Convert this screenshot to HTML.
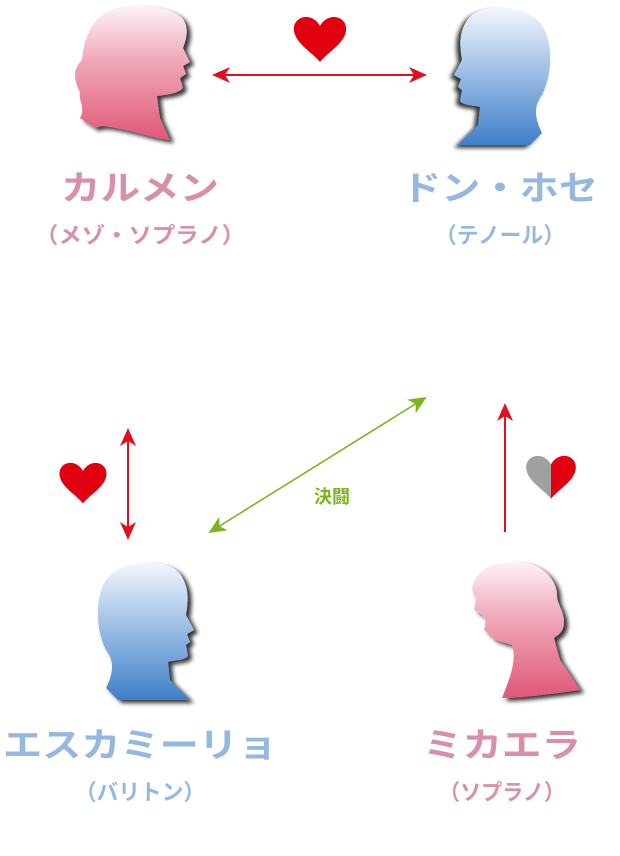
<!DOCTYPE html>
<html><head><meta charset="utf-8"><style>
html,body{margin:0;padding:0;background:#fff;width:620px;height:856px;overflow:hidden}
text{font-family:"Liberation Sans","Noto Sans CJK JP",sans-serif;font-weight:bold}
</style></head><body>
<svg width="620" height="856" viewBox="0 0 620 856" xmlns="http://www.w3.org/2000/svg">
<defs>
<linearGradient id="pk" x1="0" y1="0" x2="0" y2="1"><stop offset="0" stop-color="#fdf3f6"/><stop offset="0.4" stop-color="#f0a9bb"/><stop offset="1" stop-color="#df5778"/></linearGradient>
<linearGradient id="bl" x1="0" y1="0" x2="0" y2="1"><stop offset="0" stop-color="#f3f7fc"/><stop offset="0.4" stop-color="#a9c6e8"/><stop offset="1" stop-color="#3f7fc8"/></linearGradient>
<filter id="sh" x="-20%" y="-20%" width="150%" height="150%"><feGaussianBlur in="SourceAlpha" stdDeviation="2"/><feOffset dx="4" dy="3"/><feComponentTransfer><feFuncA type="linear" slope="0.8"/></feComponentTransfer><feMerge><feMergeNode/><feMergeNode in="SourceGraphic"/></feMerge></filter>
<path id="male" d="M30,140 L18,128 C26,112 26,100 18,90 C8,70 6,40 18,20 C32,0 78,-4 92,14 C102,28 100,42 98,55 L106,70 L99,74 L102,82 L98,85 L100,96 C96,101 86,100 80,102 L82,120 L102,140 Z"/>
<path id="red" d="M0,-10 C-8,-25 -28,-20 -26,-5 C-24,8 -8,16 0,26 C8,16 24,8 26,-5 C28,-20 8,-25 0,-10 Z"/>
<marker id="ar" markerWidth="18" markerHeight="16" refX="16" refY="8" orient="auto-start-reverse" markerUnits="userSpaceOnUse"><path d="M0,0 L18,8 L0,16 L5,8 Z" fill="#e0101e"/></marker>
<marker id="ag" markerWidth="18" markerHeight="16" refX="16" refY="8" orient="auto-start-reverse" markerUnits="userSpaceOnUse"><path d="M0,0 L18,8 L0,16 L5,8 Z" fill="#7ab51e"/></marker>
</defs>

<path filter="url(#sh)" fill="url(#pk)" d="M95,128 L80,118 C86,108 78,100 80,92 C74,80 72,70 82,60 C84,40 90,20 110,10 C135,2 170,6 182,18 C190,28 186,40 183,48 L190,62 L183,66 L186,74 L180,78 L183,88 C178,94 165,95 157,96 L160,118 L170,140 C150,138 125,128 102,126 Z"/>
<g transform="translate(560,5) scale(-1,1)"><use href="#male" fill="url(#bl)" filter="url(#sh)"/></g>
<g transform="translate(88,560)"><use href="#male" fill="url(#bl)" filter="url(#sh)"/></g>
<path filter="url(#sh)" fill="url(#pk)" transform="translate(462,560)" d="M10,30 C12,10 30,2 55,2 C80,2 95,20 95,35 C95,45 102,50 102,62 C102,72 96,75 92,78 L98,100 C105,110 115,125 118,130 C90,134 60,138 40,138 C48,118 55,100 50,85 C40,82 30,80 28,75 L22,70 L24,60 L20,55 L12,50 L14,40 Z"/>

<line x1="214" y1="75" x2="425" y2="75" stroke="#e0101e" stroke-width="2" marker-start="url(#ar)" marker-end="url(#ar)"/>
<line x1="128" y1="430" x2="128" y2="538" stroke="#e0101e" stroke-width="2" marker-start="url(#ar)" marker-end="url(#ar)"/>
<line x1="210" y1="532" x2="425" y2="398" stroke="#7ab51e" stroke-width="1.6" marker-start="url(#ag)" marker-end="url(#ag)"/>
<line x1="505" y1="532" x2="505" y2="405" stroke="#e0101e" stroke-width="2" marker-end="url(#ar)"/>

<g transform="translate(320,36)"><use href="#red" fill="#e0000f"/></g>
<g transform="translate(83,480) scale(0.9)"><use href="#red" fill="#e0000f"/></g>
<g transform="translate(551,474) scale(0.95)">
<path d="M0,-10 C-8,-25 -28,-20 -26,-5 C-24,8 -8,16 0,26 Z" fill="#a0a0a0"/>
<path d="M0,-10 C8,-25 28,-20 26,-5 C24,8 8,16 0,26 Z" fill="#e0000f"/>
</g>

<text x="332" y="503" font-size="18" fill="#7ab51e" text-anchor="middle">決闘</text>

<text x="140" y="200" font-size="34" fill="#d98fab" text-anchor="middle" textLength="158" lengthAdjust="spacingAndGlyphs">カルメン</text>
<text x="140" y="243" font-size="22" fill="#d98fab" text-anchor="middle" textLength="210" lengthAdjust="spacingAndGlyphs">（メゾ・ソプラノ）</text>
<text x="500" y="200" font-size="34" fill="#94b8e0" text-anchor="middle" textLength="196" lengthAdjust="spacingAndGlyphs">ドン・ホセ</text>
<text x="500" y="243" font-size="22" fill="#94b8e0" text-anchor="middle" textLength="130" lengthAdjust="spacingAndGlyphs">（テノール）</text>
<text x="140" y="757" font-size="34" fill="#94b8e0" text-anchor="middle" textLength="274" lengthAdjust="spacingAndGlyphs">エスカミーリョ</text>
<text x="140" y="800" font-size="22" fill="#94b8e0" text-anchor="middle" textLength="130" lengthAdjust="spacingAndGlyphs">（バリトン）</text>
<text x="502" y="757" font-size="34" fill="#d98fab" text-anchor="middle" textLength="158" lengthAdjust="spacingAndGlyphs">ミカエラ</text>
<text x="502" y="800" font-size="22" fill="#d98fab" text-anchor="middle" textLength="126" lengthAdjust="spacingAndGlyphs">（ソプラノ）</text>
</svg>
</body></html>
